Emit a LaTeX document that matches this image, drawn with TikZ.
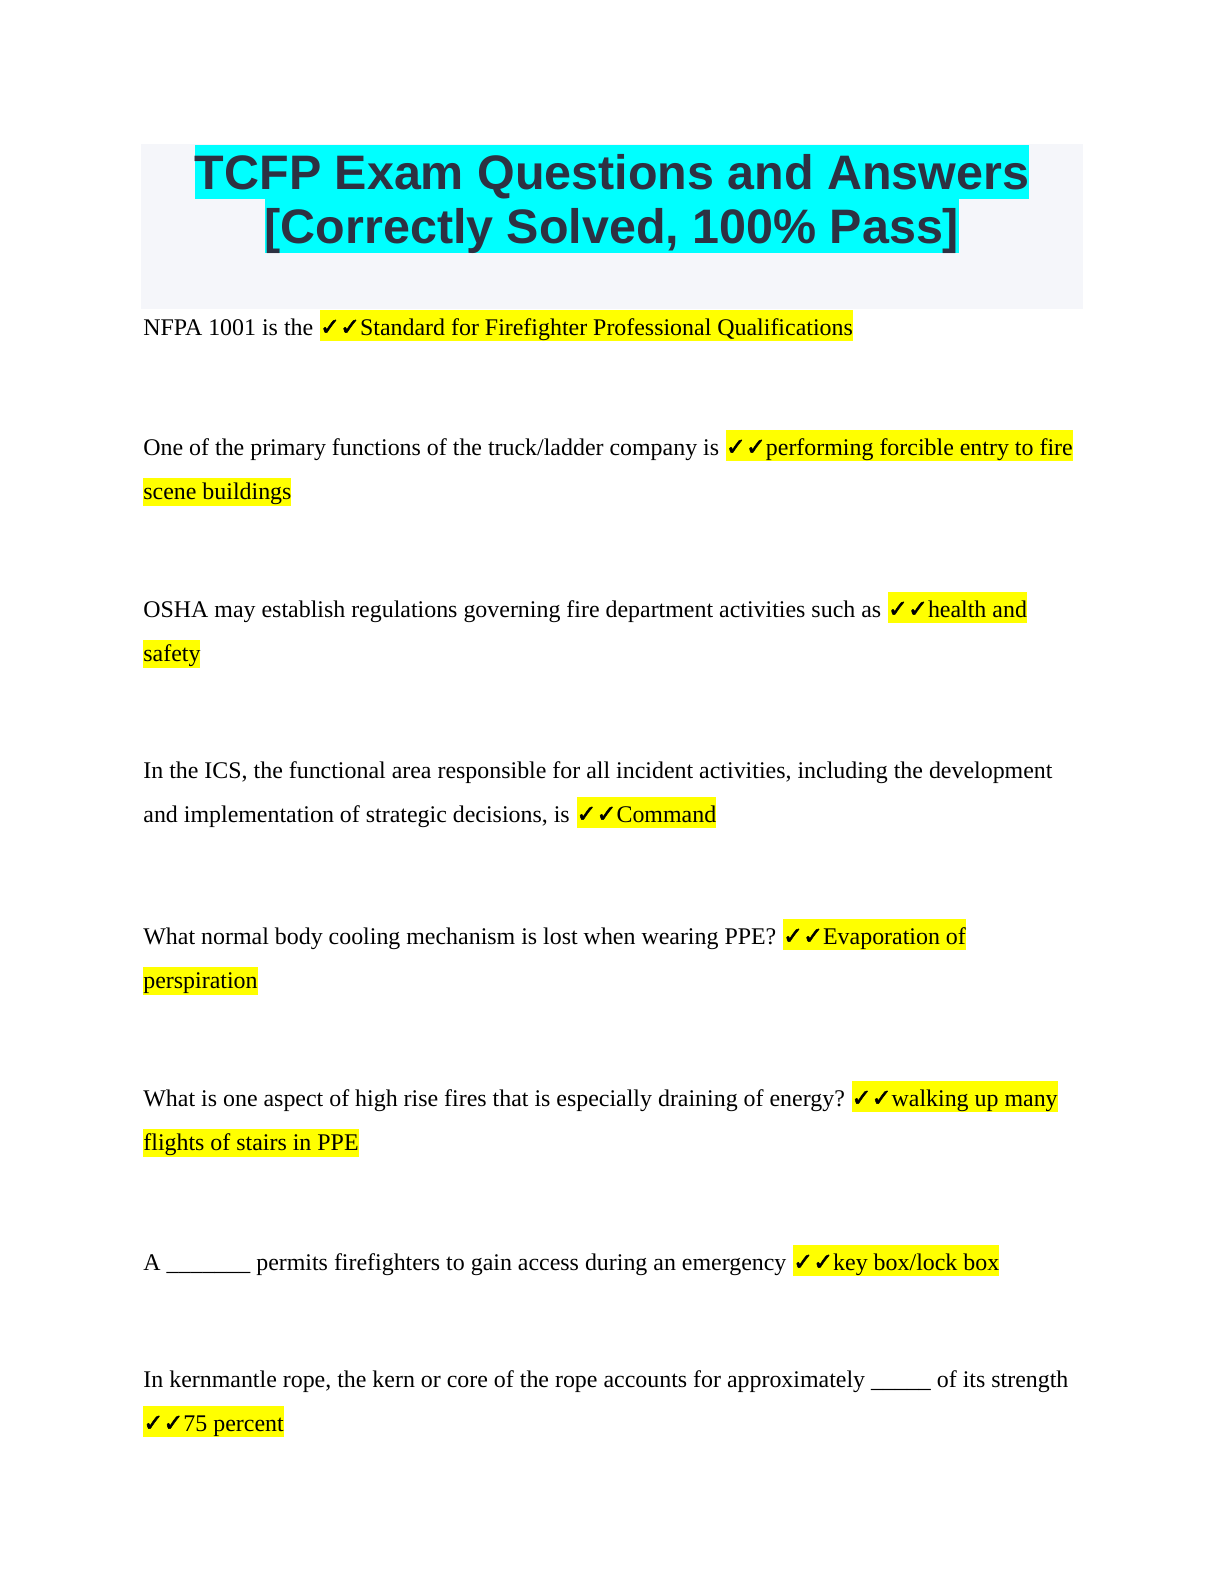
\documentclass[tikz,border=0pt]{standalone}
\usepackage{fontspec}
\setmainfont{Liberation Serif}
\newfontfamily\titlefont{Liberation Sans}
\newfontfamily\checkfont[FakeBold=2]{DejaVu Sans}
\usetikzlibrary{positioning}
\definecolor{titleink}{RGB}{45,49,66}
\definecolor{titlebg}{RGB}{245,246,250}
\definecolor{hlcyan}{RGB}{0,255,255}
\definecolor{hlyellow}{RGB}{255,255,0}
\newcommand{\ticks}{{\checkfont ✓✓}}
\tikzset{
    titleline/.style={anchor=base, fill=hlcyan, inner sep=0pt, text height=22bp, text depth=5bp,
        text=titleink, font=\titlefont\bfseries\fontsize{24.3}{27}\selectfont},
    qline/.style={anchor=base west, inner sep=0pt, font=\fontsize{12}{14}\selectfont},
    ans/.style={qline, fill=hlyellow, text height=10.5bp, text depth=3.5bp},
    ansck/.style={ans, text height=12.5bp, text depth=3bp}
}
\begin{document}
\begin{tikzpicture}[x=0.5bp, y=-0.5bp]
    \useasboundingbox (0,0) rectangle (1224,1584);
    \fill[titlebg] (141,144) rectangle (1083,309);
    \node[titleline] (title1) at (612,189) {TCFP Exam Questions and Answers};
    \node[titleline] (title2) at (612,243) {[Correctly Solved, 100\% Pass]};

    \node[qline] (q1) at (143,335) {NFPA 1001 is the};
    \node[ansck, base right=3bp of q1] (a1) {\ticks Standard for Firefighter Professional Qualifications};

    \node[qline] (q2) at (143,455) {One of the primary functions of the truck/ladder company is};
    \node[ansck, base right=3bp of q2] (a2) {\ticks performing forcible entry to fire};
    \node[ans] (a2b) at (143,499) {scene buildings};

    \node[qline] (q3) at (143,617) {OSHA may establish regulations governing fire department activities such as};
    \node[ansck, base right=3bp of q3] (a3) {\ticks health and};
    \node[ans] (a3b) at (143,661) {safety};

    \node[qline] (q4) at (143,778) {In the ICS, the functional area responsible for all incident activities, including the development};
    \node[qline] (q4b) at (143,822) {and implementation of strategic decisions, is};
    \node[ansck, base right=3bp of q4b] (a4) {\ticks Command};

    \node[qline] (q5) at (143,944) {What normal body cooling mechanism is lost when wearing PPE?};
    \node[ansck, base right=3bp of q5] (a5) {\ticks Evaporation of};
    \node[ans] (a5b) at (143,988) {perspiration};

    \node[qline] (q6) at (143,1106) {What is one aspect of high rise fires that is especially draining of energy?};
    \node[ansck, base right=3bp of q6] (a6) {\ticks walking up many};
    \node[ans] (a6b) at (143,1150) {flights of stairs in PPE};

    \node[qline] (q7) at (143,1270) {A \_\_\_\_\_\_\_ permits firefighters to gain access during an emergency};
    \node[ansck, base right=3bp of q7] (a7) {\ticks key box/lock box};

    \node[qline] (q8) at (143,1387) {In kernmantle rope, the kern or core of the rope accounts for approximately \_\_\_\_\_ of its strength};
    \node[ansck] (a8) at (143,1431) {\ticks 75 percent};
\end{tikzpicture}
\end{document}
